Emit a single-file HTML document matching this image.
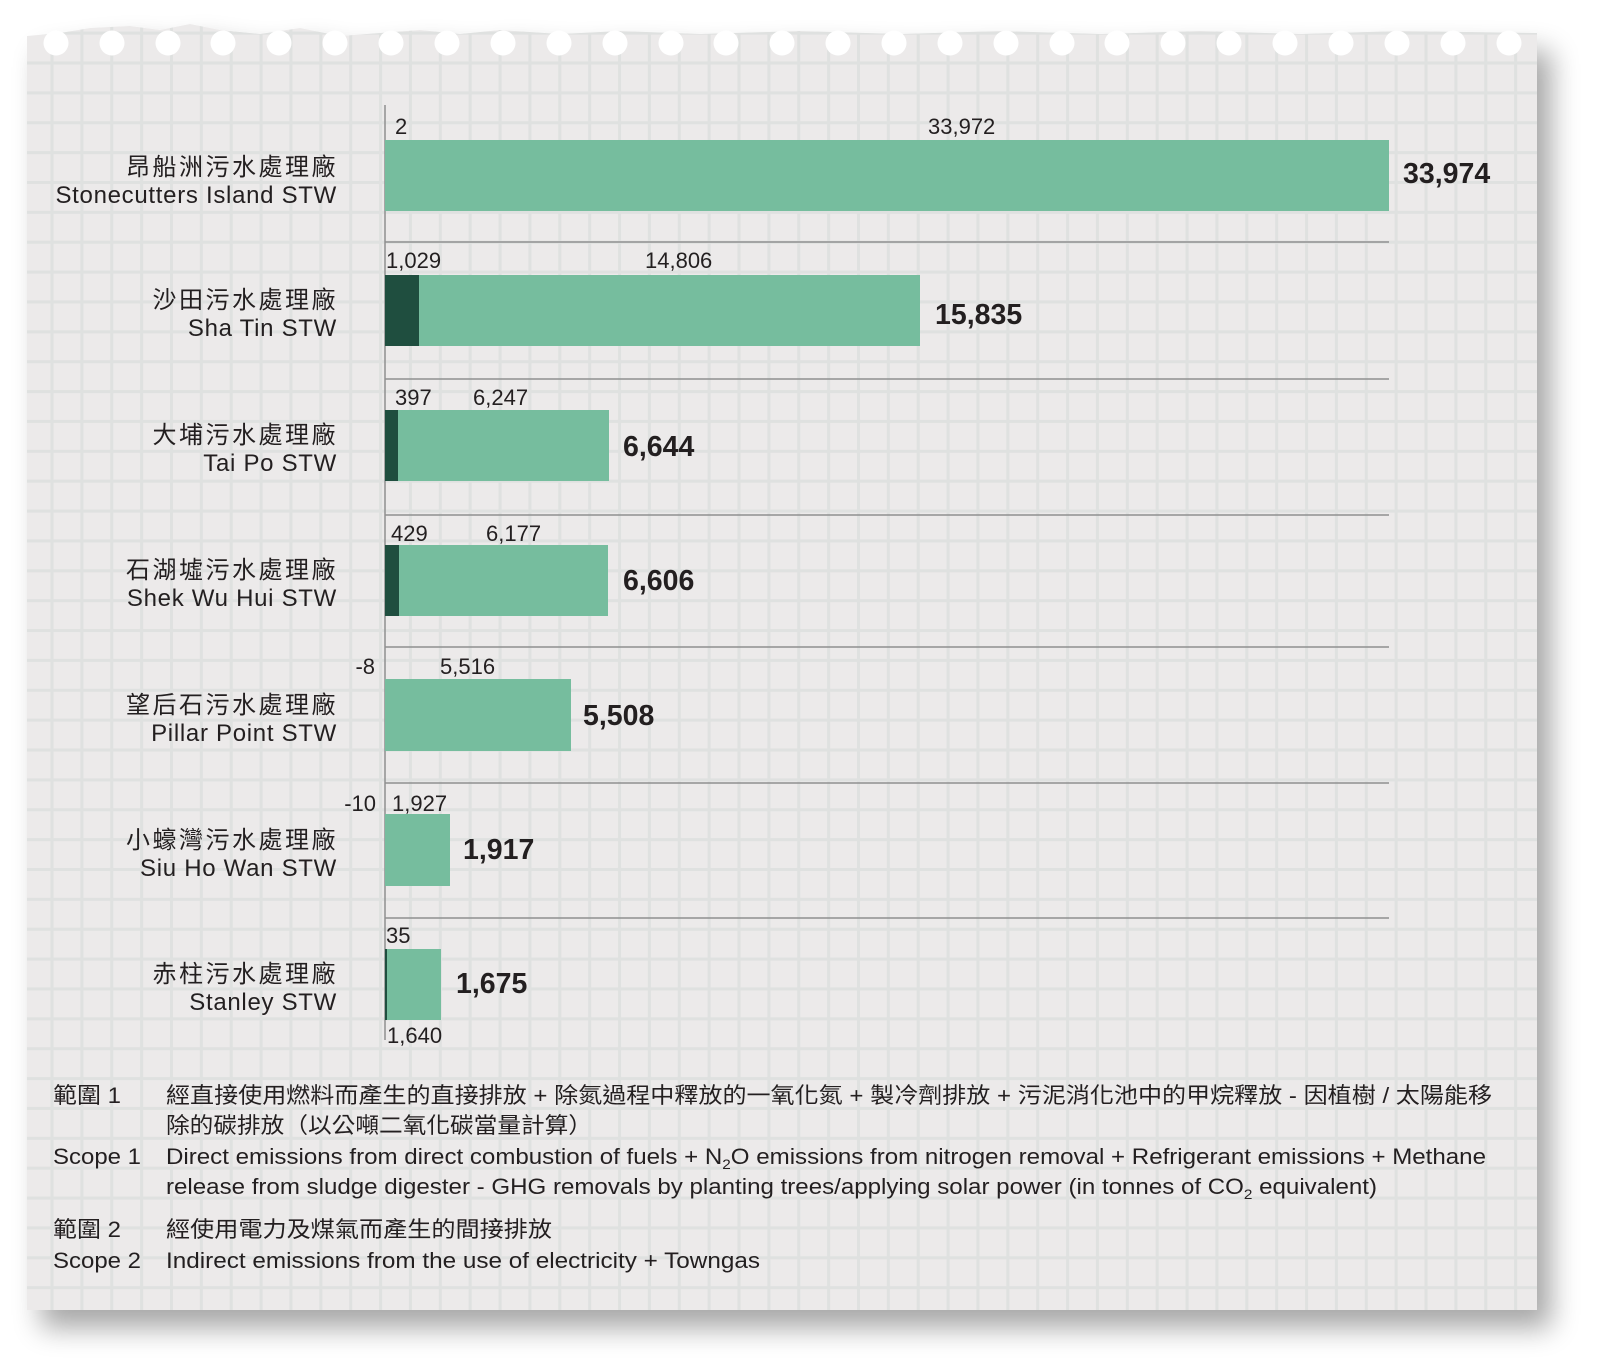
<!DOCTYPE html>
<html><head><meta charset="utf-8"><style>
html,body{margin:0;padding:0;background:#fff;width:1600px;height:1368px;overflow:hidden}
svg{display:block}
text{font-family:"Liberation Sans","Noto Sans CJK TC",sans-serif;fill:#231f20}
.s{font-size:22px}
.b{font-size:28.5px;font-weight:bold}
.zh{font-size:24px;letter-spacing:2.5px;font-family:"Noto Sans CJK TC","Liberation Sans",sans-serif}
.en{font-size:24px;letter-spacing:0.7px}
.lg{font-size:22px}
</style></head><body>
<svg width="1600" height="1368" viewBox="0 0 1600 1368" xmlns="http://www.w3.org/2000/svg">
<defs>
<pattern id="g" patternUnits="userSpaceOnUse" x="52" y="63" width="29.87" height="29.87">
<rect x="0" y="0" width="29.87" height="29.87" fill="#eceaea"/>
<rect x="-1.5" y="0" width="3" height="29.87" fill="#dfe1e0"/>
<rect x="0" y="-1.5" width="29.87" height="3" fill="#dfe1e0"/>
<rect x="28.37" y="0" width="3" height="29.87" fill="#dfe1e0"/>
<rect x="0" y="28.37" width="29.87" height="3" fill="#dfe1e0"/>
</pattern>
<filter id="sh" x="-5%" y="-5%" width="115%" height="115%">
<feGaussianBlur in="SourceAlpha" stdDeviation="14"/>
<feOffset dx="14" dy="18"/>
<feComponentTransfer><feFuncA type="linear" slope="0.35"/></feComponentTransfer>
<feMerge><feMergeNode/><feMergeNode in="SourceGraphic"/></feMerge>
</filter>
</defs>
<g filter="url(#sh)">
<path d="M27,36 L60,33 L90,28 L130,26 L160,30 L190,24 L220,30 L260,34 L300,28 L340,36 L380,33 L420,30 L460,34 L500,30 L560,34 L620,31 L700,34 L800,31 L900,34 L1000,31 L1100,34 L1200,31 L1300,34 L1400,31 L1537,33 L1537,1310 L27,1310 Z" fill="url(#g)"/>
</g>
<g fill="#ffffff">
<circle cx="56" cy="43" r="12.5"/><circle cx="112" cy="43" r="12.5"/><circle cx="168" cy="43" r="12.5"/><circle cx="223" cy="43" r="12.5"/><circle cx="279" cy="43" r="12.5"/><circle cx="335" cy="43" r="12.5"/><circle cx="391" cy="43" r="12.5"/><circle cx="447" cy="43" r="12.5"/><circle cx="503" cy="43" r="12.5"/><circle cx="559" cy="43" r="12.5"/><circle cx="615" cy="43" r="12.5"/><circle cx="671" cy="43" r="12.5"/><circle cx="726" cy="43" r="12.5"/><circle cx="782" cy="43" r="12.5"/><circle cx="838" cy="43" r="12.5"/><circle cx="894" cy="43" r="12.5"/><circle cx="950" cy="43" r="12.5"/><circle cx="1006" cy="43" r="12.5"/><circle cx="1062" cy="43" r="12.5"/><circle cx="1117" cy="43" r="12.5"/><circle cx="1173" cy="43" r="12.5"/><circle cx="1229" cy="43" r="12.5"/><circle cx="1285" cy="43" r="12.5"/><circle cx="1341" cy="43" r="12.5"/><circle cx="1397" cy="43" r="12.5"/><circle cx="1453" cy="43" r="12.5"/><circle cx="1509" cy="43" r="12.5"/>
</g>
<g stroke="#8f8f8f" stroke-width="1.5">
<line x1="385" y1="242" x2="1389" y2="242"/><line x1="385" y1="379" x2="1389" y2="379"/><line x1="385" y1="515" x2="1389" y2="515"/><line x1="385" y1="647" x2="1389" y2="647"/><line x1="385" y1="783" x2="1389" y2="783"/><line x1="385" y1="918" x2="1389" y2="918"/>
<line x1="385" y1="105" x2="385" y2="1040"/>
</g>
<g fill="#76bd9e">
<rect x="385" y="140" width="1004" height="71"/>
<rect x="385" y="275" width="535" height="71"/>
<rect x="385" y="410" width="224" height="71"/>
<rect x="385" y="545" width="223" height="71"/>
<rect x="385" y="679" width="186" height="72"/>
<rect x="385" y="814" width="65" height="72"/>
<rect x="385" y="949" width="56" height="71"/>
</g>
<g fill="#1f4e3f">
<rect x="385" y="275" width="34" height="71"/>
<rect x="385" y="410" width="13" height="71"/>
<rect x="385" y="545" width="14" height="71"/>
<rect x="385" y="949" width="2" height="71"/>
</g>
<g class="s">
<text x="395" y="134" class="s">2</text><text x="928" y="134" class="s">33,972</text>
<text x="386" y="268" class="s">1,029</text><text x="645" y="268" class="s">14,806</text>
<text x="395" y="405" class="s">397</text><text x="473" y="405" class="s">6,247</text>
<text x="391" y="541" class="s">429</text><text x="486" y="541" class="s">6,177</text>
<text x="375" y="674" class="s" text-anchor="end">-8</text><text x="440" y="674" class="s">5,516</text>
<text x="376" y="811" class="s" text-anchor="end">-10</text><text x="392" y="811" class="s">1,927</text>
<text x="386" y="943" class="s">35</text><text x="387" y="1043" class="s">1,640</text>
</g>
<g>
<text x="1403" y="183" class="b">33,974</text>
<text x="935" y="324" class="b">15,835</text>
<text x="623" y="456" class="b">6,644</text>
<text x="623" y="590" class="b">6,606</text>
<text x="583" y="725" class="b">5,508</text>
<text x="463" y="859" class="b">1,917</text>
<text x="456" y="993" class="b">1,675</text>
</g>
<g text-anchor="end">
<text x="338" y="175" class="zh">昂船洲污水處理廠</text><text x="337" y="203" class="en">Stonecutters Island STW</text>
<text x="338" y="308" class="zh">沙田污水處理廠</text><text x="337" y="336" class="en">Sha Tin STW</text>
<text x="338" y="443" class="zh">大埔污水處理廠</text><text x="337" y="471" class="en">Tai Po STW</text>
<text x="338" y="578" class="zh">石湖墟污水處理廠</text><text x="337" y="606" class="en">Shek Wu Hui STW</text>
<text x="338" y="713" class="zh">望后石污水處理廠</text><text x="337" y="741" class="en">Pillar Point STW</text>
<text x="338" y="848" class="zh">小蠔灣污水處理廠</text><text x="337" y="876" class="en">Siu Ho Wan STW</text>
<text x="338" y="982" class="zh">赤柱污水處理廠</text><text x="337" y="1010" class="en">Stanley STW</text>
</g>
<g class="lg">
<text x="53" y="1103" class="lg" textLength="68" lengthAdjust="spacingAndGlyphs">範圍 1</text>
<text x="166" y="1103" class="lg" textLength="1326" lengthAdjust="spacingAndGlyphs">經直接使用燃料而產生的直接排放 + 除氮過程中釋放的一氧化氮 + 製冷劑排放 + 污泥消化池中的甲烷釋放 - 因植樹 / 太陽能移</text>
<text x="166" y="1133" class="lg" textLength="426" lengthAdjust="spacingAndGlyphs">除的碳排放（以公噸二氧化碳當量計算）</text>
<text x="53" y="1164" class="lg" textLength="88" lengthAdjust="spacingAndGlyphs">Scope 1</text>
<text x="166" y="1164" class="lg" textLength="1320" lengthAdjust="spacingAndGlyphs">Direct emissions from direct combustion of fuels + N<tspan font-size="14" dy="5">2</tspan><tspan dy="-5">O emissions from nitrogen removal + Refrigerant emissions + Methane</tspan></text>
<text x="166" y="1194" class="lg" textLength="1211" lengthAdjust="spacingAndGlyphs">release from sludge digester - GHG removals by planting trees/applying solar power (in tonnes of CO<tspan font-size="14" dy="5">2</tspan><tspan dy="-5"> equivalent)</tspan></text>
<text x="53" y="1237" class="lg" textLength="68" lengthAdjust="spacingAndGlyphs">範圍 2</text>
<text x="166" y="1237" class="lg" textLength="386" lengthAdjust="spacingAndGlyphs">經使用電力及煤氣而產生的間接排放</text>
<text x="53" y="1268" class="lg" textLength="88" lengthAdjust="spacingAndGlyphs">Scope 2</text>
<text x="166" y="1268" class="lg" textLength="594" lengthAdjust="spacingAndGlyphs">Indirect emissions from the use of electricity + Towngas</text>
</g>
</svg>
</body></html>
